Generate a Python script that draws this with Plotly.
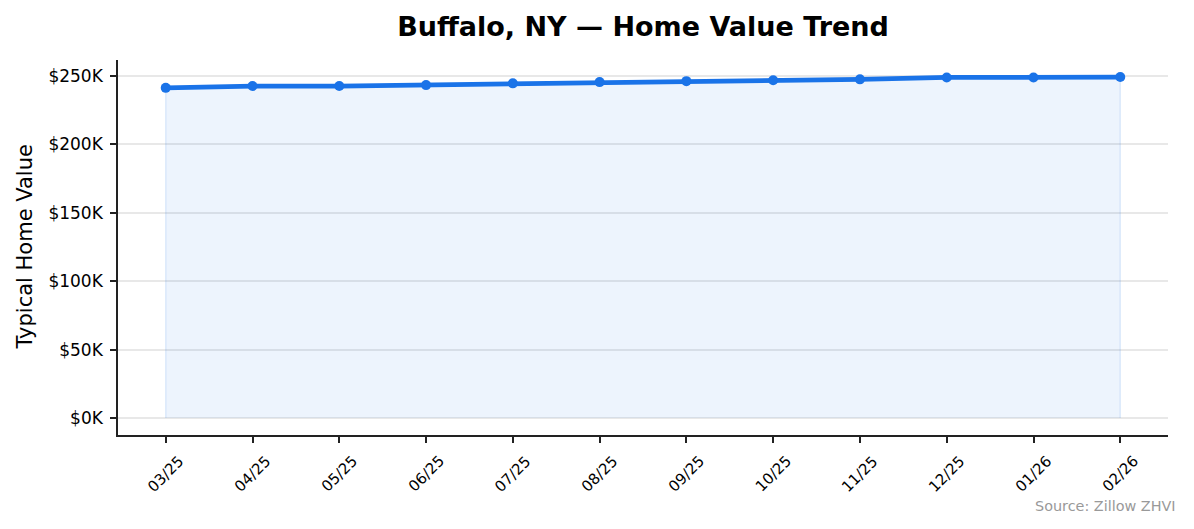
import plotly.graph_objects as go

months = ["03/25", "04/25", "05/25", "06/25", "07/25", "08/25",
          "09/25", "10/25", "11/25", "12/25", "01/26", "02/26"]
home_values = [241400, 242700, 242700, 243400, 244700, 245600,
               246300, 246900, 247600, 249000, 249000, 249300]
y_ticks = [0, 50000, 100000, 150000, 200000, 250000]
y_tick_labels = ["$0K", "$50K", "$100K", "$150K", "$200K", "$250K"]

blue = "#1a73e8"
x_idx = list(range(len(months)))
n = len(months) - 1

fig = go.Figure()
# shaded area under the line (closed polygon, like fill_between with a faint edge)
fig.add_trace(go.Scatter(
    x=[x_idx[0]] + x_idx + [x_idx[-1]],
    y=[0] + home_values + [0],
    mode="lines", fill="toself",
    fillcolor="rgba(26,115,232,0.08)",
    line=dict(color="rgba(26,115,232,0.12)", width=1.5),
    hoverinfo="skip", showlegend=False,
))
fig.add_trace(go.Scatter(
    x=x_idx, y=home_values, mode="lines+markers",
    line=dict(color=blue, width=4.8),
    marker=dict(color=blue, size=10),
    showlegend=False,
))

top = max(home_values)
pad = top * 0.05

# page has an 8px body margin, so the figure is 8px smaller than the window
W, H = 1186, 521
L, R, T, B = 110, 26, 52, 94
plot_w, plot_h = W - L - R, H - T - B

# rotated month labels centred under each tick (matplotlib-style)
month_labels = [
    dict(text=m, x=i, xref="x", yref="paper", y=(H - B - 466) / plot_h,
         xanchor="center", yanchor="middle", textangle=-45, showarrow=False,
         font=dict(size=15, color="black"))
    for i, m in zip(x_idx, months)
]

fig.update_layout(
    width=W, height=H,
    margin=dict(l=L, r=R, t=T, b=B),
    paper_bgcolor="white", plot_bgcolor="white",
    font=dict(family="DejaVu Sans", size=14, color="black"),
    title=dict(text="<b>Buffalo, NY — Home Value Trend</b>",
               xref="paper", x=0.5, y=1 - 19 / H,
               xanchor="center", yanchor="middle",
               font=dict(size=27, color="black")),
    xaxis=dict(
        range=[-0.05 * n, n + 0.05 * n],
        tickmode="array", tickvals=x_idx, showticklabels=False,
        showgrid=False, zeroline=False,
        showline=True, linecolor="#222", linewidth=1.5,
        ticks="outside", ticklen=6, tickwidth=1.5, tickcolor="#222",
    ),
    yaxis=dict(
        range=[-pad, top + pad],
        tickmode="array", tickvals=y_ticks, ticktext=y_tick_labels,
        showgrid=True, gridcolor="rgba(0,0,0,0.09)", gridwidth=1.5,
        zeroline=False,
        showline=True, linecolor="#222", linewidth=1.5,
        ticks="outside", ticklen=6, tickwidth=1.5, tickcolor="#222",
        tickfont=dict(size=17), ticklabelstandoff=4,
    ),
    annotations=month_labels + [
        dict(text="Typical Home Value", xref="paper", yref="paper",
             x=(16 - L) / plot_w, y=0.5, xanchor="center", yanchor="middle",
             textangle=-90, showarrow=False, font=dict(size=21, color="black")),
        dict(text="Source: Zillow ZHVI", xref="paper", yref="paper",
             x=(1170 - L) / plot_w, y=(H - B - 498) / plot_h,
             xanchor="right", yanchor="middle",
             showarrow=False, font=dict(size=14.4, color="#999")),
    ],
)

fig.write_html("out.html")
